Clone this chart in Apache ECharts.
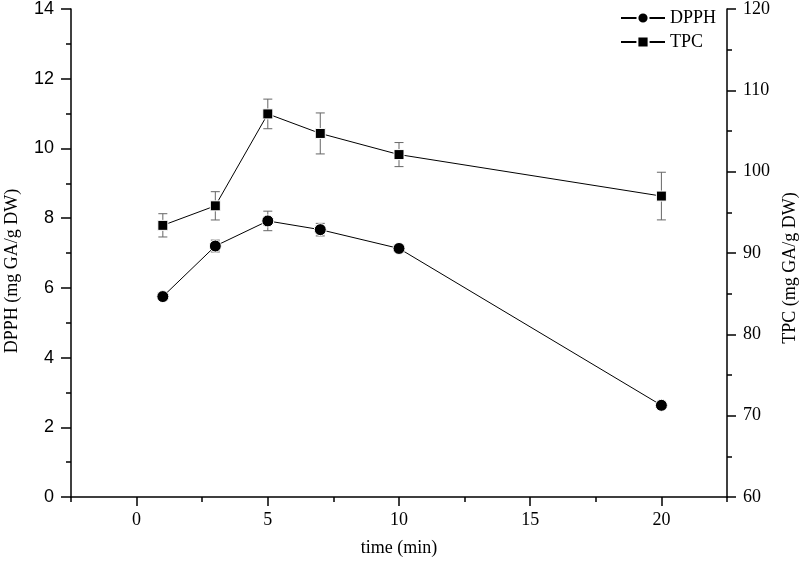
<!DOCTYPE html>
<html>
<head>
<meta charset="utf-8">
<script src="https://cdn.jsdelivr.net/npm/echarts@6/dist/echarts.min.js"></script>
<style>
  html, body { margin: 0; padding: 0; background: #fff; }
  #main { width: 799px; height: 566px; }
</style>
</head>
<body>
<div id="main"></div>
<script>
    // values
    var time = [1, 3, 5, 7, 10, 20];
    var dpph = [5.75, 7.20, 7.92, 7.67, 7.13, 2.63];
    var dpphErr = [0.05, 0.17, 0.28, 0.18, 0.09, 0.05];
    var tpc = [93.4, 95.8, 107.1, 104.7, 102.1, 97.0];
    var tpcErr = [1.43, 1.74, 1.82, 2.52, 1.48, 2.93];
    var xMajorTicks = [0, 5, 10, 15, 20];
    var xMinorTicks = [-2.5, 2.5, 7.5, 12.5, 17.5, 22.5];

    var serif = '"Liberation Serif", "DejaVu Serif", serif';
    var sans = '"Liberation Sans", Arial, sans-serif';

    function pairs(ys) {
        return time.map(function (t, i) { return [t, ys[i]]; });
    }
    function ranges(ys, errs) {
        return time.map(function (t, i) { return [t, ys[i] - errs[i], ys[i] + errs[i]]; });
    }

    // error bar with caps
    function renderErr(params, api) {
        var x = api.value(0);
        var top = api.coord([x, api.value(2)]);
        var bot = api.coord([x, api.value(1)]);
        var w = 4.5;
        var st = { stroke: '#666', lineWidth: 1 };
        return {
            type: 'group',
            children: [
                { type: 'line', shape: { x1: top[0], y1: top[1], x2: bot[0], y2: bot[1] }, style: st },
                { type: 'line', shape: { x1: top[0] - w, y1: top[1], x2: top[0] + w, y2: top[1] }, style: st },
                { type: 'line', shape: { x1: bot[0] - w, y1: bot[1], x2: bot[0] + w, y2: bot[1] }, style: st }
            ]
        };
    }

    var axisBlack = { color: '#000', width: 1.5 };

    var myChart = echarts.init(document.getElementById('main'));
    var option = {
        animation: false,
        backgroundColor: '#fff',
        grid: { left: 71, right: 72, top: 9, bottom: 69, containLabel: false, outerBoundsMode: 'none' },
        legend: {
            data: ['DPPH', 'TPC'],
            orient: 'vertical',
            left: 620,
            top: 9,
            padding: 0,
            itemWidth: 44,
            itemHeight: 14,
            itemGap: 6,
            textStyle: { fontFamily: serif, fontSize: 18, color: '#000' }
        },
        xAxis: [
            {
                type: 'value',
                min: -2.5,
                max: 22.5,
                interval: 2.5,
                name: 'time (min)',
                nameLocation: 'middle',
                nameGap: 42,
                nameTextStyle: { fontFamily: serif, fontSize: 18, color: '#000' },
                splitLine: { show: false },
                axisLine: { show: true, onZero: false, lineStyle: axisBlack },
                axisTick: { show: true, length: 9, customValues: xMajorTicks, lineStyle: axisBlack },
                axisLabel: { customValues: xMajorTicks, margin: 14, fontFamily: serif, fontSize: 18, color: '#000' }
            },
            {
                type: 'value',
                position: 'bottom',
                min: -2.5,
                max: 22.5,
                interval: 2.5,
                splitLine: { show: false },
                axisLine: { show: false, onZero: false },
                axisTick: { show: true, length: 5, customValues: xMinorTicks, lineStyle: axisBlack },
                axisLabel: { show: false }
            }
        ],
        yAxis: [
            {
                type: 'value',
                position: 'left',
                min: 0,
                max: 14,
                interval: 2,
                name: 'DPPH (mg GA/g DW)',
                nameLocation: 'middle',
                nameRotate: 90,
                nameGap: 50,
                nameTextStyle: { fontFamily: serif, fontSize: 18, color: '#000', padding: [0, 36, 0, 0] },
                splitLine: { show: false },
                axisLine: { show: true, onZero: false, lineStyle: axisBlack },
                axisTick: { show: true, length: 10, lineStyle: axisBlack },
                minorTick: { show: true, splitNumber: 2, length: 5, lineStyle: axisBlack },
                axisLabel: { margin: 17, fontFamily: sans, fontSize: 18, color: '#000' }
            },
            {
                type: 'value',
                position: 'right',
                min: 60,
                max: 120,
                interval: 10,
                name: 'TPC (mg GA/g DW)',
                nameLocation: 'middle',
                nameRotate: 90,
                nameGap: 54,
                nameTextStyle: { fontFamily: serif, fontSize: 18, color: '#000', padding: [0, 30, 0, 0] },
                splitLine: { show: false },
                axisLine: { show: true, onZero: false, lineStyle: axisBlack },
                axisTick: { show: true, length: 9, lineStyle: axisBlack },
                minorTick: { show: true, splitNumber: 2, length: 5, lineStyle: axisBlack },
                axisLabel: { margin: 16, fontFamily: serif, fontSize: 18, color: '#000' }
            }
        ],
        series: [
            {
                name: 'DPPH err',
                type: 'custom',
                yAxisIndex: 0,
                renderItem: renderErr,
                encode: { x: 0, y: [1, 2] },
                data: ranges(dpph, dpphErr),
                z: 1
            },
            {
                name: 'TPC err',
                type: 'custom',
                yAxisIndex: 1,
                renderItem: renderErr,
                encode: { x: 0, y: [1, 2] },
                data: ranges(tpc, tpcErr),
                z: 1
            },
            {
                name: 'DPPH',
                type: 'line',
                yAxisIndex: 0,
                data: pairs(dpph),
                symbol: 'circle',
                symbolSize: 12,
                color: '#000',
                lineStyle: { color: '#000', width: 1 },
                itemStyle: { color: '#000', borderColor: '#fff', borderWidth: 1 },
                z: 3
            },
            {
                name: 'TPC',
                type: 'line',
                yAxisIndex: 1,
                data: pairs(tpc),
                symbol: 'rect',
                symbolSize: 10,
                color: '#000',
                lineStyle: { color: '#000', width: 1 },
                itemStyle: { color: '#000', borderColor: '#fff', borderWidth: 1 },
                z: 3
            }
        ]
    };
    option && myChart.setOption(option);
</script>
</body>
</html>
